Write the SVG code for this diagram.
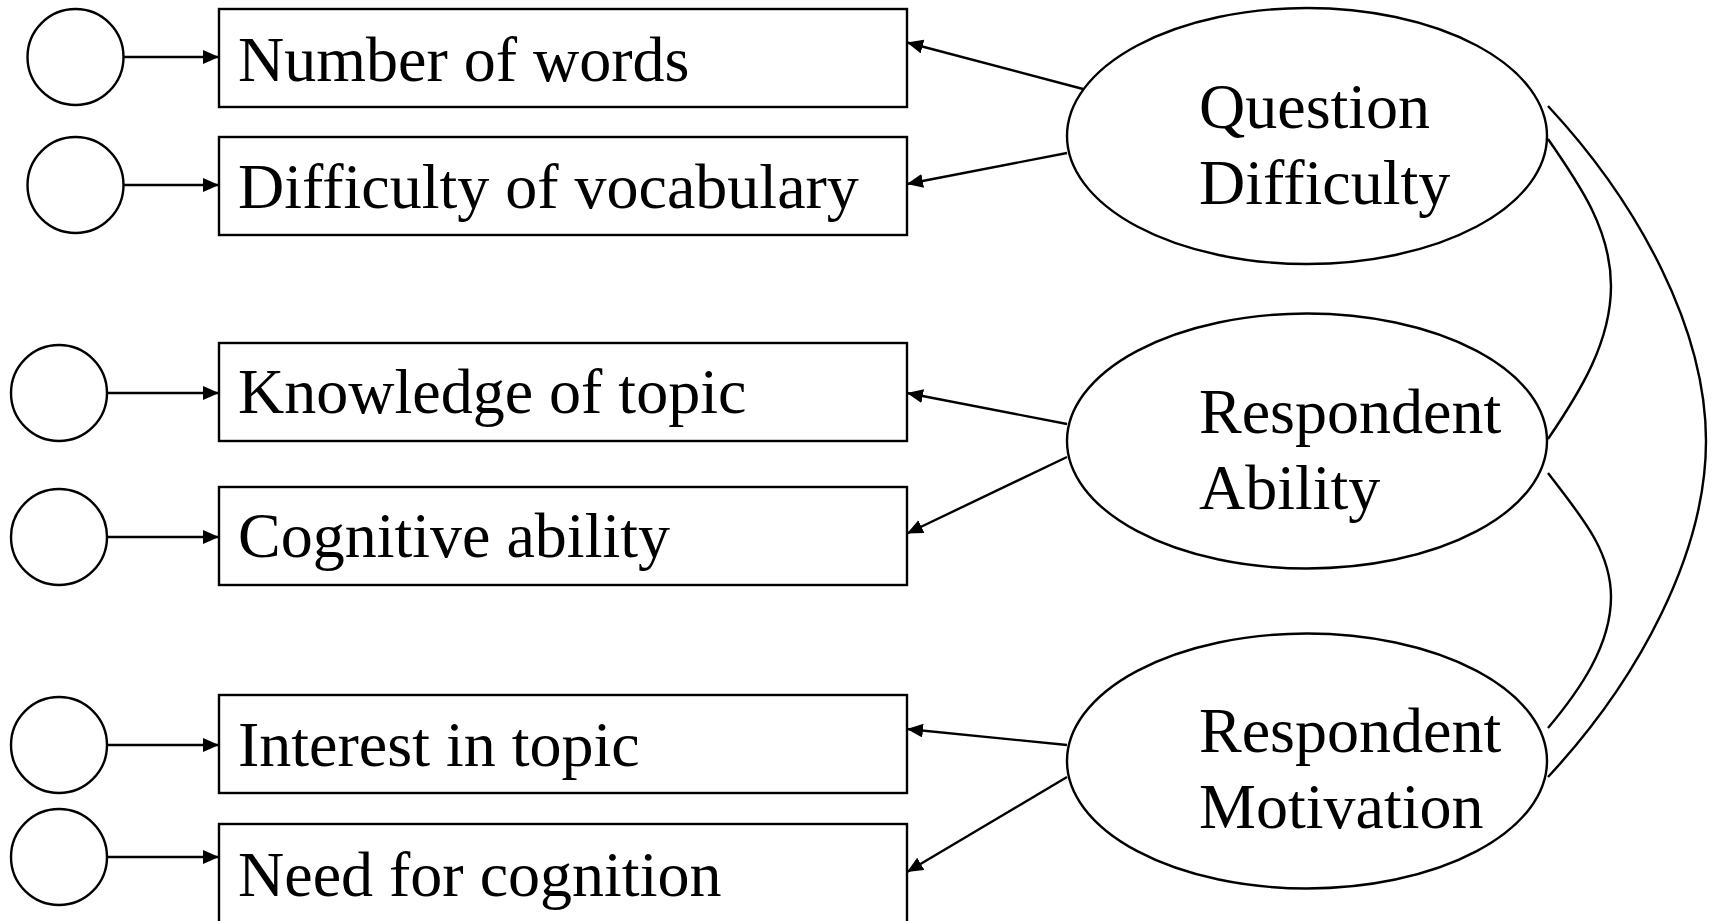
<svg xmlns="http://www.w3.org/2000/svg" width="1715" height="921" viewBox="0 0 1715 921">
<style>
  .shape { fill: #ffffff; stroke: #000000; stroke-width: 2.4; }
  .lbl { font-family: "Liberation Serif", "Times New Roman", serif; font-size: 64px; fill: #000000; }
  .conn { fill: none; stroke: #000000; stroke-width: 2.4; }
  .arr { marker-end: url(#ah); }
</style>
<defs>
  <marker id="ah" markerUnits="userSpaceOnUse" markerWidth="17" markerHeight="15" refX="16" refY="7" orient="auto">
    <path d="M0,0 L16,7 L0,14 z" fill="#000000"/>
  </marker>
</defs>
<rect x="0" y="0" width="1715" height="921" fill="#ffffff"/>

<g id="e1"><circle class="shape" cx="75.5" cy="57" r="48"/></g>
<g id="e2"><circle class="shape" cx="75.5" cy="185" r="48"/></g>
<g id="e3"><circle class="shape" cx="59" cy="393" r="48"/></g>
<g id="e4"><circle class="shape" cx="59" cy="537" r="48"/></g>
<g id="e5"><circle class="shape" cx="59" cy="745" r="48"/></g>
<g id="e6"><circle class="shape" cx="59" cy="857" r="48"/></g>

<g id="box1"><rect class="shape" x="219" y="9" width="688" height="98"/><text class="lbl" x="238" y="81">Number of words</text></g>
<g id="box2"><rect class="shape" x="219" y="137" width="688" height="98"/><text class="lbl" x="238" y="208">Difficulty of vocabulary</text></g>
<g id="box3"><rect class="shape" x="219" y="343" width="688" height="98"/><text class="lbl" x="238" y="413">Knowledge of topic</text></g>
<g id="box4"><rect class="shape" x="219" y="487" width="688" height="98"/><text class="lbl" x="238" y="557">Cognitive ability</text></g>
<g id="box5"><rect class="shape" x="219" y="695" width="688" height="98"/><text class="lbl" x="238" y="766">Interest in topic</text></g>
<g id="box6"><rect class="shape" x="219" y="824" width="688" height="120"/><text class="lbl" x="238" y="896">Need for cognition</text></g>

<g id="qd"><ellipse class="shape" cx="1307" cy="136" rx="240" ry="128"/><text class="lbl" x="1199" y="128">Question</text><text class="lbl" x="1199" y="204">Difficulty</text></g>
<g id="ra"><ellipse class="shape" cx="1307" cy="441" rx="240" ry="127.5"/><text class="lbl" x="1199" y="433">Respondent</text><text class="lbl" x="1199" y="509">Ability</text></g>
<g id="rm"><ellipse class="shape" cx="1307" cy="761" rx="240" ry="127.5"/><text class="lbl" x="1199" y="752">Respondent</text><text class="lbl" x="1199" y="828">Motivation</text></g>

<g id="connectors">
  <line class="conn arr" x1="123.5" y1="57" x2="219" y2="57"/>
  <line class="conn arr" x1="123.5" y1="185" x2="219" y2="185"/>
  <line class="conn arr" x1="107" y1="393" x2="219" y2="393"/>
  <line class="conn arr" x1="107" y1="537" x2="219" y2="537"/>
  <line class="conn arr" x1="107" y1="745" x2="219" y2="745"/>
  <line class="conn arr" x1="107" y1="857" x2="219" y2="857"/>

  <line class="conn arr" x1="1083" y1="89" x2="907" y2="42.5"/>
  <line class="conn arr" x1="1067" y1="153" x2="907" y2="184"/>
  <line class="conn arr" x1="1067" y1="424" x2="907" y2="393"/>
  <line class="conn arr" x1="1067" y1="457" x2="907" y2="533.5"/>
  <line class="conn arr" x1="1067" y1="745" x2="907" y2="729"/>
  <line class="conn arr" x1="1067" y1="777" x2="907" y2="872"/>

  <path class="conn" d="M1548,139 C1580,185 1611,230 1611,286 C1611,342 1580,392 1548,439"/>
  <path class="conn" d="M1548,473 C1580,515 1611,550 1611,597 C1611,645 1580,690 1548,728"/>
  <path class="conn" d="M1548,106 C1640,205 1706,330 1706,441 C1706,552 1640,678 1548,777"/>
</g>
</svg>
